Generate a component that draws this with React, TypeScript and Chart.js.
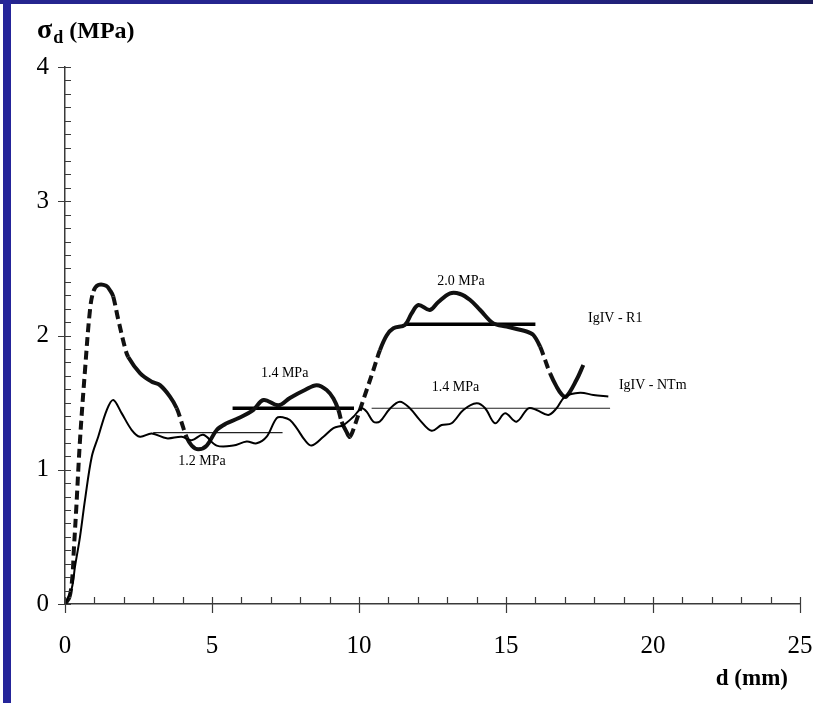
import React, { useEffect, useRef } from "react";
import { Chart, registerables } from "chart.js";

Chart.register(...registerables);

// ---- data ----
const r1X = [0, 0.15, 0.25, 0.3, 0.38, 0.51, 0.68, 0.85, 0.97, 1.13, 1.4, 1.55, 1.64, 1.81, 2.04, 2.15, 2.55, 2.95, 3.23, 3.57, 3.8, 3.97, 4.14, 4.31, 4.53, 4.82, 5.16, 5.5, 5.89, 6.4, 6.75, 7.26, 7.65, 8.16, 8.56, 8.9, 9.13, 9.3, 9.41, 9.58, 9.69, 9.86, 10.03, 10.26, 10.49, 10.71, 10.94, 11.17, 11.56, 11.79, 12.02, 12.41, 12.7, 13.1, 13.44, 13.78, 14.12, 14.57, 15.02, 15.7, 15.93, 16.16, 16.33, 16.5, 16.72, 16.9, 17.05, 17.4, 17.63];
const r1Y = [0, 0.05, 0.2, 0.4, 0.7, 1.22, 1.74, 2.19, 2.33, 2.376, 2.37, 2.33, 2.29, 2.12, 1.91, 1.84, 1.72, 1.656, 1.63, 1.545, 1.458, 1.35, 1.24, 1.18, 1.152, 1.18, 1.296, 1.346, 1.383, 1.445, 1.52, 1.48, 1.535, 1.594, 1.63, 1.594, 1.53, 1.445, 1.358, 1.28, 1.246, 1.333, 1.445, 1.594, 1.743, 1.89, 2.0, 2.054, 2.078, 2.165, 2.227, 2.19, 2.25, 2.314, 2.309, 2.264, 2.19, 2.09, 2.066, 2.03, 2.004, 1.917, 1.817, 1.718, 1.619, 1.56, 1.545, 1.67, 1.78];

const ntmX = [0, 0.23, 0.34, 0.51, 0.68, 0.91, 1.13, 1.42, 1.64, 1.93, 2.27, 2.55, 2.95, 3.46, 3.97, 4.31, 4.7, 5.16, 5.72, 6.18, 6.52, 6.86, 7.2, 7.43, 7.65, 7.88, 8.16, 8.39, 8.79, 9.13, 9.47, 9.81, 10.09, 10.26, 10.49, 10.71, 11.05, 11.39, 11.73, 12.07, 12.47, 12.81, 13.15, 13.55, 14.0, 14.29, 14.63, 14.97, 15.36, 15.76, 16.04, 16.44, 16.72, 17.01, 17.52, 17.97, 18.48];
const ntmY = [0, 0.117, 0.278, 0.5, 0.775, 1.097, 1.246, 1.445, 1.52, 1.42, 1.296, 1.246, 1.27, 1.234, 1.246, 1.22, 1.26, 1.18, 1.18, 1.21, 1.197, 1.246, 1.385, 1.39, 1.37, 1.31, 1.22, 1.18, 1.246, 1.31, 1.333, 1.395, 1.458, 1.433, 1.358, 1.36, 1.455, 1.507, 1.458, 1.37, 1.29, 1.333, 1.346, 1.445, 1.495, 1.458, 1.346, 1.42, 1.358, 1.458, 1.445, 1.408, 1.458, 1.545, 1.574, 1.557, 1.545];

// average stress levels (horizontal lines)
const levelStart = [3.0, 5.7, 10.43, 11.56];
const levelEnd = [7.4, 9.83, 18.54, 16.0];
const levelValue = [1.276, 1.458, 1.458, 2.083];
const levelHeavy = [false, true, false, true];

// text notes (data coordinates)
const noteText = ["1.2 MPa", "1.4 MPa", "1.4 MPa", "2.0 MPa", "IgIV - R1", "IgIV - NTm"];
const noteX = [4.66, 7.47, 13.28, 13.47, 17.79, 18.84];
const noteY = [1.065, 1.72, 1.616, 2.406, 2.13, 1.63];
const noteAlign = ["center", "center", "center", "center", "left", "left"];

const xMin = 0, xMax = 25, xStep = 5, xMinorStep = 1;
const yMin = 0, yMax = 4, yStep = 1, yMinorStep = 0.1;

const SERIF = "'Liberation Serif', 'Times New Roman', serif";
const AXIS = "#3a3a3a";

const toPts = (xs: number[], ys: number[]) => xs.map((x, i) => ({ x, y: ys[i] }));

const decorPlugin = {
  id: "decor",
  afterDraw(chart: any) {
    const { ctx, scales, chartArea } = chart;
    const xs = scales.x, ys = scales.y;
    const x0 = xs.getPixelForValue(xMin);
    const y0 = ys.getPixelForValue(yMin);
    ctx.save();
    ctx.strokeStyle = AXIS;
    ctx.lineWidth = 1.2;
    ctx.beginPath();
    const nY = Math.round((yMax - yMin) / yMinorStep);
    for (let i = 0; i <= nY; i++) {
      const v = yMin + i * yMinorStep;
      const py = Math.round(ys.getPixelForValue(v)) + 0.5;
      const major = i % Math.round(yStep / yMinorStep) === 0;
      ctx.moveTo(x0 - (major ? 7 : 0), py);
      ctx.lineTo(x0 + 6, py);
    }
    const nX = Math.round((xMax - xMin) / xMinorStep);
    for (let i = 0; i <= nX; i++) {
      const v = xMin + i * xMinorStep;
      const px = Math.round(xs.getPixelForValue(v)) + 0.5;
      const major = i % Math.round(xStep / xMinorStep) === 0;
      ctx.moveTo(px, y0 - 7);
      ctx.lineTo(px, y0 + (major ? 9 : 0));
    }
    ctx.stroke();

    // notes
    ctx.fillStyle = "#000";
    ctx.font = `14px ${SERIF}`;
    ctx.textBaseline = "middle";
    noteText.forEach((t, i) => {
      ctx.textAlign = noteAlign[i] as CanvasTextAlign;
      ctx.fillText(t, xs.getPixelForValue(noteX[i]), ys.getPixelForValue(noteY[i]));
    });

    // axis titles
    ctx.textBaseline = "alphabetic";
    ctx.textAlign = "right";
    ctx.font = `bold 23px ${SERIF}`;
    ctx.fillText("d (mm)", chartArea.right - 12, chartArea.bottom + 81);

    ctx.textAlign = "left";
    let tx = chartArea.left - 28;
    const base = chartArea.top - 29;
    ctx.font = `bold 28px ${SERIF}`;
    ctx.fillText("σ", tx, base);
    tx += ctx.measureText("σ").width + 1;
    ctx.font = `bold 18px ${SERIF}`;
    ctx.fillText("d", tx, base + 5);
    tx += ctx.measureText("d").width;
    ctx.font = `bold 24px ${SERIF}`;
    ctx.fillText(" (MPa)", tx, base);
    ctx.restore();
  },
};

export default function App() {
  const ref = useRef<HTMLCanvasElement | null>(null);
  useEffect(() => {
    if (!ref.current) return;
    const steepDash = (c: any) => {
      const dx = Math.abs(c.p1.x - c.p0.x);
      const dy = Math.abs(c.p1.y - c.p0.y);
      return dy > 2.3 * dx ? [9, 5] : undefined;
    };
    const levelSets = levelStart.map((s, i) => ({
      data: [{ x: s, y: levelValue[i] }, { x: levelEnd[i], y: levelValue[i] }],
      borderColor: levelHeavy[i] ? "#000" : "#222",
      borderWidth: levelHeavy[i] ? 3.5 : 1.2,
      pointRadius: 0,
      tension: 0,
    }));
    const chart = new Chart(ref.current, {
      type: "line",
      data: {
        datasets: [
          {
            data: toPts(ntmX, ntmY),
            borderColor: "#000",
            borderWidth: 2,
            pointRadius: 0,
            tension: 0.35,
          },
          {
            data: toPts(r1X, r1Y),
            borderColor: "#111",
            borderWidth: 4,
            pointRadius: 0,
            tension: 0.35,
            borderCapStyle: "butt",
            segment: { borderDash: steepDash },
          },
          ...levelSets,
        ] as any,
      },
      options: {
        animation: false,
        responsive: false,
        maintainAspectRatio: false,
        layout: { padding: { left: 0, right: 13, top: 67, bottom: 0 } },
        plugins: { legend: { display: false }, tooltip: { enabled: false } },
        scales: {
          x: {
            type: "linear",
            min: xMin,
            max: xMax,
            grid: { display: false },
            border: { display: true, color: AXIS, width: 1.5 },
            ticks: { stepSize: xStep, color: "#000", font: { family: SERIF, size: 25 }, padding: 19, maxRotation: 0 },
            afterFit: (s: any) => { s.height = 99; s.paddingLeft = 0; s.paddingRight = 0; },
          },
          y: {
            type: "linear",
            min: yMin,
            max: yMax,
            grid: { display: false },
            border: { display: true, color: AXIS, width: 1.5 },
            ticks: { stepSize: yStep, color: "#000", font: { family: SERIF, size: 25 }, padding: 8 },
            afterFit: (s: any) => { s.width = 65; s.paddingTop = 0; s.paddingBottom = 0; },
          },
        },
      } as any,
      plugins: [decorPlugin],
    });
    return () => chart.destroy();
  }, []);

  return (
    <div style={{ position: "fixed", left: 0, top: 0, width: 813, height: 703, background: "#fff", overflow: "hidden" }}>
      <canvas ref={ref} width={813} height={703} style={{ position: "absolute", left: 0, top: 0 }} />
      <div style={{ position: "absolute", left: 0, top: 0, width: 813, height: 4, background: "linear-gradient(to right, #25258f 0%, #25258f 60%, #1b1b58 100%)" }} />
      <div style={{ position: "absolute", left: 3, top: 0, width: 8, height: 703, background: "#25259a" }} />
    </div>
  );
}
